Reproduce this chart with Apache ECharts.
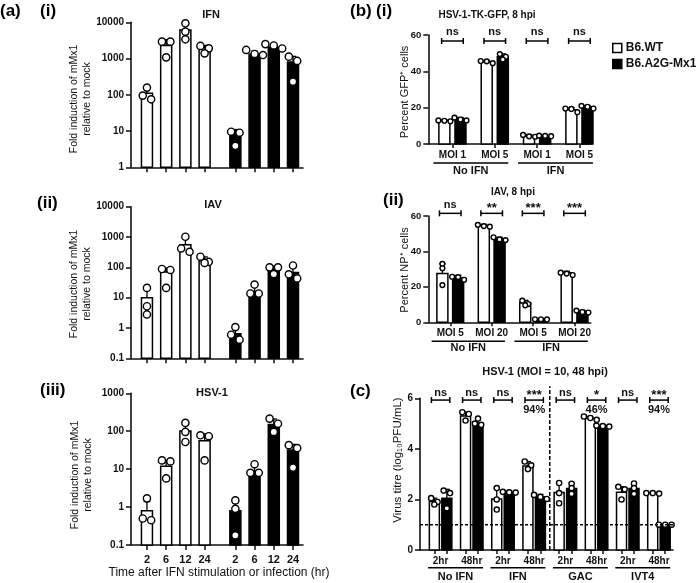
<!DOCTYPE html>
<html><head><meta charset="utf-8">
<script src="https://cdn.jsdelivr.net/npm/echarts@6/dist/echarts.min.js"></script>
<style>html,body{margin:0;padding:0;background:#fff}#chart{width:696px;height:583px}</style>
</head><body><div id="chart"></div>
<script>
const FONT = '"Liberation Sans", Arial, Helvetica, sans-serif';

// ---------------- Panel (a): fold induction of mMx1 (log scale) ----------------
const aTimes = ['2', '6', '12', '24'];
// (i) IFN
const aIFN_wt = [110, 2300, 6100, 2000];
const aIFN_wtErr = [150, 3300, 9000, 2300];
const aIFN_wtDots = [[158, 95, 75], [2930, 2930, 1080], [9380, 5520, 3390], [2230, 1910, 1390]];
const aIFN_mx = [8, 1340, 2050, 800];
const aIFN_mxErr = [11, 1600, 2500, 1150];
const aIFN_mxDots = [[9.6, 9.0, 3.9], [1730, 1340, 1250], [2500, 2300, 1900], [1130, 860, 230]];
// (ii) IAV
const aIAV_wt = [10, 70, 560, 165];
const aIAV_wtErr = [20, 95, 900, 220];
const aIAV_wtDots = [[21, 5.2, 2.8], [88, 82, 21], [1020, 420, 325], [224, 152, 140]];
const aIAV_mx = [0.65, 16, 98, 68];
const aIAV_mxErr = [1.0, 25, 110, 100];
const aIAV_mxDots = [[1.07, 0.6, 0.41], [27, 13.7, 13.7], [100, 100, 60], [115, 59, 43]];
// (iii) HSV-1
const aHSV_wt = [0.8, 12, 102, 56];
const aHSV_wtErr = [1.4, 17, 170, 85];
const aHSV_wtDots = [[1.7, 0.5, 0.45], [17, 16, 5.7], [166, 96, 52], [78, 74, 17]];
const aHSV_mx = [0.8, 9, 150, 32];
const aHSV_mxErr = [1.3, 12, 210, 45];
const aHSV_mxDots = [[1.5, 0.9, 0.18], [13.5, 8, 8], [215, 158, 96], [43, 36, 11]];

// ---------------- Panel (b) ----------------
const bGfpLabels = ['MOI 1', 'MOI 5', 'MOI 1', 'MOI 5'];
const bNpLabels = ['MOI 5', 'MOI 20', 'MOI 5', 'MOI 20'];
const bGroups = ['No IFN', 'IFN'];
const bGfp_wt = [12.8, 45.2, 4.4, 18.8];
const bGfp_wtErr = [13.3, 46, 5.2, 20];
const bGfp_wtDots = [[12.5, 13, 12.8], [44.5, 45.5, 45.7], [4, 5, 4.2], [17.5, 19.5, 19.3]];
const bGfp_mx = [13.8, 48, 4.4, 20.3];
const bGfp_mxErr = [14.6, 49.6, 4.7, 21.2];
const bGfp_mxDots = [[13, 14.5, 13.5], [46.5, 48, 49.5], [4.3, 4.5, 4.6], [19.5, 21, 20.5]];
const bGfpSig = ['ns', 'ns', 'ns', 'ns'];
const bNp_wt = [27.5, 54.5, 11, 28];
const bNp_wtErr = [33, 55.3, 12.4, 28.8];
const bNp_wtDots = [[33, 30.5, 21], [54, 55, 54.3], [12.2, 10.3, 9.6], [28, 26.7, 27.5]];
const bNp_mx = [25.2, 47, 1.6, 6];
const bNp_mxErr = [26.5, 48, 1.7, 6.8];
const bNp_mxDots = [[25.7, 24, 25.5], [48, 46.8, 46.4], [1.7, 1.6, 1.7], [6.6, 5.8, 5.5]];
const bNpSig = ['ns', '**', '***', '***'];

// ---------------- Panel (c): HSV-1 titre ----------------
const cLabels = ['2hr', '48hr', '2hr', '48hr', '2hr', '48hr', '2hr', '48hr'];
const cGroups = ['No IFN', 'IFN', 'GAC', 'IVT4'];
const c_wt = [1.92, 5.3, 2.02, 3.32, 2.27, 5.21, 2.28, 2.24];
const c_wtErr = [2.05, 5.45, 2.45, 3.5, 2.65, 5.28, 2.5, 2.26];
const c_wtDots = [[2.05, 1.9, 1.8], [5.45, 5.38, 5.12], [2.45, 2.0, 1.6], [3.5, 3.35, 3.2], [2.65, 2.25, 1.85], [5.28, 5.22, 5.15], [2.5, 2.4, 2.0], [2.25, 2.23, 2.25]];
const c_mx = [2.05, 5.0, 2.27, 2.1, 2.43, 4.9, 2.43, 1.0];
const c_mxErr = [2.4, 5.2, 2.32, 2.2, 2.65, 4.93, 2.65, 1.01];
const c_mxDots = [[2.35, 2.25, 1.65], [5.2, 5.0, 4.95], [2.28, 2.3, 2.27], [2.18, 2.1, 2.02], [2.62, 2.45, 2.22], [4.9, 4.92, 4.88], [2.63, 2.45, 2.22], [1.0, 1.0, 1.0]];
const cSig = ['ns', 'ns', 'ns', '***', 'ns', '*', 'ns', '***'];
const cPct = ['', '', '', '94%', '', '46%', '', '94%'];
const cDetectionLimit = 1;

const WT = 'B6.WT', MX = 'B6.A2G-Mx1';

// ---------------- layout helpers ----------------
const INK = '#111';
const A_GROUP_SHIFT = 4.6;
const aXsWT = aTimes.map((_, i) => i);
const aXsMX = aTimes.map((_, i) => i + A_GROUP_SHIFT);
const pairXs = (n, half, sign) => Array.from({length: n}, (_, k) => k + sign * half);

const grids = [
  {left: 131, top: 22.3, width: 172, height: 145},
  {left: 131, top: 206.7, width: 172, height: 151.6},
  {left: 131, top: 393.3, width: 172, height: 151.7},
  {left: 428.3, top: 35, width: 163.4, height: 109},
  {left: 428.3, top: 216, width: 162.4, height: 106.3},
  {left: 420, top: 398.3, width: 253, height: 151.7}
].map(g => Object.assign(g, {outerBoundsMode: 'none', containLabel: false}));

const numFmt = v => String(Number((+v).toPrecision(6)));

function yAxisCfg(idx, type, min, max, interval, fs) {
  const ax = {
    type, gridIndex: idx, min, max,
    axisLine: {show: true, onZero: false, lineStyle: {color: INK, width: 1.6}},
    axisTick: {show: true, length: 5, lineStyle: {color: INK, width: 1.5}},
    axisLabel: {fontSize: fs, fontWeight: 'bold', color: INK, margin: 7, fontFamily: FONT, formatter: numFmt},
    splitLine: {show: false}, minorTick: {show: false}
  };
  if (type === 'log') ax.logBase = 10;
  if (interval) ax.interval = interval;
  return ax;
}
function xAxisCfg(idx, min, max, tickVals, labelVals, labels, fs, margin, tickLen) {
  return {
    type: 'value', gridIndex: idx, min, max,
    axisLine: {show: true, onZero: false, lineStyle: {color: INK, width: 1.6}},
    axisTick: {show: true, length: tickLen, customValues: tickVals, lineStyle: {color: INK, width: 1.5}},
    axisLabel: {
      show: !!labels, customValues: labelVals || tickVals, fontSize: fs, fontWeight: 'bold', color: INK,
      margin, fontFamily: FONT,
      formatter: v => {
        if (!labels) return '';
        const vals = labelVals || tickVals;
        const i = vals.findIndex(p => Math.abs(p - v) < 1e-3);
        return i >= 0 ? labels[i] : '';
      }
    },
    splitLine: {show: false}
  };
}

// bars + error bars + individual points, drawn through the axis scales
function barSeries(idx, name, xs, means, errs, dots, fill, base, barW, r) {
  return {
    type: 'custom', name, xAxisIndex: idx, yAxisIndex: idx, clip: false, z: 2,
    itemStyle: {color: fill, borderColor: '#000', borderWidth: 1.5},
    data: means.map((m, i) => [xs[i], m]),
    encode: {x: 0, y: 1},
    renderItem(params, api) {
      const i = params.dataIndex;
      const x = api.value(0), m = api.value(1);
      const pb = api.coord([x, base]), pt = api.coord([x, m]);
      const ch = [];
      ch.push({type: 'rect', shape: {x: pt[0] - barW / 2, y: pt[1], width: barW, height: pb[1] - pt[1]},
        style: {fill, stroke: '#000', lineWidth: 1.5}});
      const e = errs[i];
      if (e > m) {
        const pe = api.coord([x, e]);
        ch.push({type: 'line', shape: {x1: pt[0], y1: pt[1], x2: pt[0], y2: pe[1]}, style: {stroke: '#000', lineWidth: 1.3}});
        ch.push({type: 'line', shape: {x1: pt[0] - barW * 0.3, y1: pe[1], x2: pt[0] + barW * 0.3, y2: pe[1]}, style: {stroke: '#000', lineWidth: 1.3}});
      }
      // simple row-based point spreading
      const pts = dots[i].map(v => api.coord([x, v])[1]).sort((a, b) => a - b);
      const rows = [];
      pts.forEach(y => {
        const last = rows[rows.length - 1];
        if (last && Math.abs(y - last[0]) < r * 1.6) last.push(y); else rows.push([y]);
      });
      const step = 2 * r + 1.2;
      rows.forEach(row => {
        row.forEach((y, k) => {
          const off = (k - (row.length - 1) / 2) * step;
          ch.push({type: 'circle', shape: {cx: pt[0] + off, cy: y, r}, style: {fill: '#fff', stroke: '#000', lineWidth: 1.4}});
        });
      });
      return {type: 'group', children: ch};
    }
  };
}

function tline(x1, y1, x2, y2, w, dash) {
  return {type: 'line', shape: {x1, y1, x2, y2}, style: {stroke: '#000', lineWidth: w || 1.5, lineDash: dash || null}};
}
function ttext(text, x, y, fs, weight) {
  return {type: 'text', x, y, style: {text, fill: INK, fontSize: fs, fontWeight: weight || 'bold', fontFamily: FONT, align: 'center', verticalAlign: 'middle'}};
}

// significance brackets, group underlines, extras
function annotSeries(idx, cfg) {
  return {
    type: 'custom', xAxisIndex: idx, yAxisIndex: idx, clip: false, z: 5, silent: true,
    data: [[0, cfg.base]], encode: {x: 0, y: 1},
    renderItem(params, api) {
      const ch = [];
      const baseY = api.coord([0, cfg.base])[1];
      cfg.sigs.forEach((s, k) => {
        const p = api.coord([k, cfg.bracketVal]);
        const x1 = p[0] - cfg.bracketHalf, x2 = p[0] + cfg.bracketHalf, y = p[1];
        ch.push(tline(x1, y, x2, y, 1.5), tline(x1, y - 3, x1, y + 3, 1.5), tline(x2, y - 3, x2, y + 3, 1.5));
        const star = /^\*+$/.test(s);
        ch.push(ttext(s, p[0], y - cfg.sigGap + (star ? 3 : 0), star ? 13 : cfg.sigFs));
        if (cfg.pcts && cfg.pcts[k]) ch.push(ttext(cfg.pcts[k], p[0], y + 10, cfg.sigFs));
      });
      cfg.groups.forEach((g, gi) => {
        const xa = api.coord([gi * 2 - cfg.ulLeft, cfg.base])[0];
        const xb = api.coord([gi * 2 + 1 + cfg.ulRight, cfg.base])[0];
        ch.push(tline(xa, baseY + cfg.ulY, xb, baseY + cfg.ulY, 1.5));
        ch.push(ttext(g, (xa + xb) / 2, baseY + cfg.glY, cfg.glFs));
      });
      if (cfg.extra) cfg.extra(api, ch);
      return {type: 'group', children: ch};
    }
  };
}

const bXsWT = pairXs(4, 0.19, -1), bXsMX = pairXs(4, 0.19, 1);
const cXsWT = pairXs(8, 0.2, -1), cXsMX = pairXs(8, 0.2, 1);
const cXMin = -0.66, cXMax = 7.45;

const xAxes = [
  xAxisCfg(0, -0.83, 8.12, aXsWT.concat(aXsMX), null, null, 11, 9, 5),
  xAxisCfg(1, -0.83, 8.12, aXsWT.concat(aXsMX), null, null, 11, 9, 5),
  xAxisCfg(2, -0.83, 8.12, aXsWT.concat(aXsMX), null, aTimes.concat(aTimes), 11, 9, 5),
  xAxisCfg(3, -0.57, 3.29, [0, 1, 2, 3], null, bGfpLabels, 10, 6, 4),
  xAxisCfg(4, -0.53, 3.39, [0, 1, 2, 3], null, bNpLabels, 10, 6, 4),
  xAxisCfg(5, cXMin, cXMax, cXsWT.concat(cXsMX), [0, 1, 2, 3, 4, 5, 6, 7], cLabels, 10, 6, 4)
];
const yAxes = [
  yAxisCfg(0, 'log', 1, 10000, null, 10),
  yAxisCfg(1, 'log', 0.1, 10000, null, 10),
  yAxisCfg(2, 'log', 0.1, 1000, null, 10),
  yAxisCfg(3, 'value', 0, 60, 20, 9.5),
  yAxisCfg(4, 'value', 0, 60, 20, 9.5),
  yAxisCfg(5, 'value', 0, 6, 2, 10)
];

const series = [
  barSeries(0, WT, aXsWT, aIFN_wt, aIFN_wtErr, aIFN_wtDots, '#fff', 1, 11, 3.6),
  barSeries(0, MX, aXsMX, aIFN_mx, aIFN_mxErr, aIFN_mxDots, '#000', 1, 11, 3.6),
  barSeries(1, WT, aXsWT, aIAV_wt, aIAV_wtErr, aIAV_wtDots, '#fff', 0.1, 11, 3.6),
  barSeries(1, MX, aXsMX, aIAV_mx, aIAV_mxErr, aIAV_mxDots, '#000', 0.1, 11, 3.6),
  barSeries(2, WT, aXsWT, aHSV_wt, aHSV_wtErr, aHSV_wtDots, '#fff', 0.1, 11, 3.6),
  barSeries(2, MX, aXsMX, aHSV_mx, aHSV_mxErr, aHSV_mxDots, '#000', 0.1, 11, 3.6),
  barSeries(3, WT, bXsWT, bGfp_wt, bGfp_wtErr, bGfp_wtDots, '#fff', 0, 11, 2.4),
  barSeries(3, MX, bXsMX, bGfp_mx, bGfp_mxErr, bGfp_mxDots, '#000', 0, 11, 2.4),
  barSeries(4, WT, bXsWT, bNp_wt, bNp_wtErr, bNp_wtDots, '#fff', 0, 11, 2.4),
  barSeries(4, MX, bXsMX, bNp_mx, bNp_mxErr, bNp_mxDots, '#000', 0, 11, 2.4),
  barSeries(5, WT, cXsWT, c_wt, c_wtErr, c_wtDots, '#fff', 0, 10, 2.6),
  barSeries(5, MX, cXsMX, c_mx, c_mxErr, c_mxDots, '#000', 0, 10, 2.6),
  annotSeries(3, {base: 0, sigs: bGfpSig, bracketVal: 56.7, bracketHalf: 10.8, sigGap: 9, sigFs: 11,
    groups: bGroups, ulLeft: 0.45, ulRight: 0.32, ulY: 19, glY: 27, glFs: 11}),
  annotSeries(4, {base: 0, sigs: bNpSig, bracketVal: 61.5, bracketHalf: 10.8, sigGap: 8, sigFs: 11,
    groups: bGroups, ulLeft: 0.45, ulRight: 0.32, ulY: 19, glY: 26, glFs: 11}),
  annotSeries(5, {base: 0, sigs: cSig, pcts: cPct, bracketVal: 5.93, bracketHalf: 9.2, sigGap: 7.5, sigFs: 11,
    groups: cGroups, ulLeft: 0.4, ulRight: 0.36, ulY: 17.7, glY: 27.3, glFs: 11,
    extra(api, ch) {
      const a = api.coord([cXMin, cDetectionLimit]), b = api.coord([cXMax, cDetectionLimit]);
      ch.push(tline(a[0], a[1], b[0], b[1], 1.6, [3, 2]));
      const v0 = api.coord([3.5, 0]), v1 = api.coord([3.5, 6]);
      ch.push(tline(v0[0], v0[1], v1[0], v1[1] - 12, 1.5, [4, 2]));
    }})
];

// static text: panel letters, titles, axis titles
const T = (text, x, y, fs, weight, extra) => Object.assign({type: 'text', x, y, z: 10,
  style: {text, fill: INK, fontSize: fs, fontWeight: weight, fontFamily: FONT, align: 'center', verticalAlign: 'middle'}}, extra || {});
const L = (text, x, y) => ({type: 'text', x, y, z: 10,
  style: {text, fill: '#000', fontSize: 17, fontWeight: 'bold', fontFamily: FONT, align: 'left', verticalAlign: 'middle'}});
const R = (text, x, y, fs, lh) => ({type: 'text', x, y, rotation: Math.PI / 2, z: 10,
  style: {text, fill: INK, fontSize: fs, fontWeight: 'normal', fontFamily: FONT, align: 'center', verticalAlign: 'middle', lineHeight: lh || fs * 1.2}});

const aYTitle = 'Fold induction of mMx1\nrelative to mock';
const graphics = [
  L('(a)', 0, 11), L('(i)', 40, 11), L('(ii)', 37, 203), L('(iii)', 40, 390),
  L('(b)', 350, 11), L('(i)', 376, 11), L('(ii)', 383, 200), L('(c)', 350, 391),
  T('IFN', 211, 15, 11, 'bold'), T('IAV', 213, 205, 11, 'bold'), T('HSV-1', 212, 393, 11, 'bold'),
  T('HSV-1-TK-GFP, 8 hpi', 487, 15, 10, 'bold'), T('IAV, 8 hpi', 513, 192, 10, 'bold'),
  T('HSV-1 (MOI = 10, 48 hpi)', 545, 372, 11, 'bold'),
  R(aYTitle, 81, 99, 10.5, 13), R(aYTitle, 81, 284, 10.5, 13), R(aYTitle, 82, 475, 10.5, 13),
  R('Percent GFP\u207A cells', 405, 92, 11), R('Percent NP\u207A cells', 405, 270, 11),
  R('Virus titre (log\u2081\u2080PFU/mL)', 398, 460, 11.5),
  T('Time after IFN stimulation or infection (hr)', 219, 573, 12, 'normal')
];

const chart = echarts.init(document.getElementById('chart'), null, {renderer: 'canvas'});
chart.setOption({
  animation: false,
  backgroundColor: '#fff',
  grid: grids,
  xAxis: xAxes,
  yAxis: yAxes,
  legend: {
    left: 607, top: 37, orient: 'vertical', itemWidth: 9, itemHeight: 9, itemGap: 4, selectedMode: false,
    textStyle: {fontSize: 12, fontWeight: 'bold', color: INK, fontFamily: FONT, padding: [0, 0, 0, -1]},
    data: [
      {name: WT, icon: 'rect', itemStyle: {color: '#fff', borderColor: '#000', borderWidth: 1.5}},
      {name: MX, icon: 'rect', itemStyle: {color: '#000', borderColor: '#000', borderWidth: 1.5}}
    ]
  },
  graphic: {elements: graphics},
  series
});
</script></body></html>
